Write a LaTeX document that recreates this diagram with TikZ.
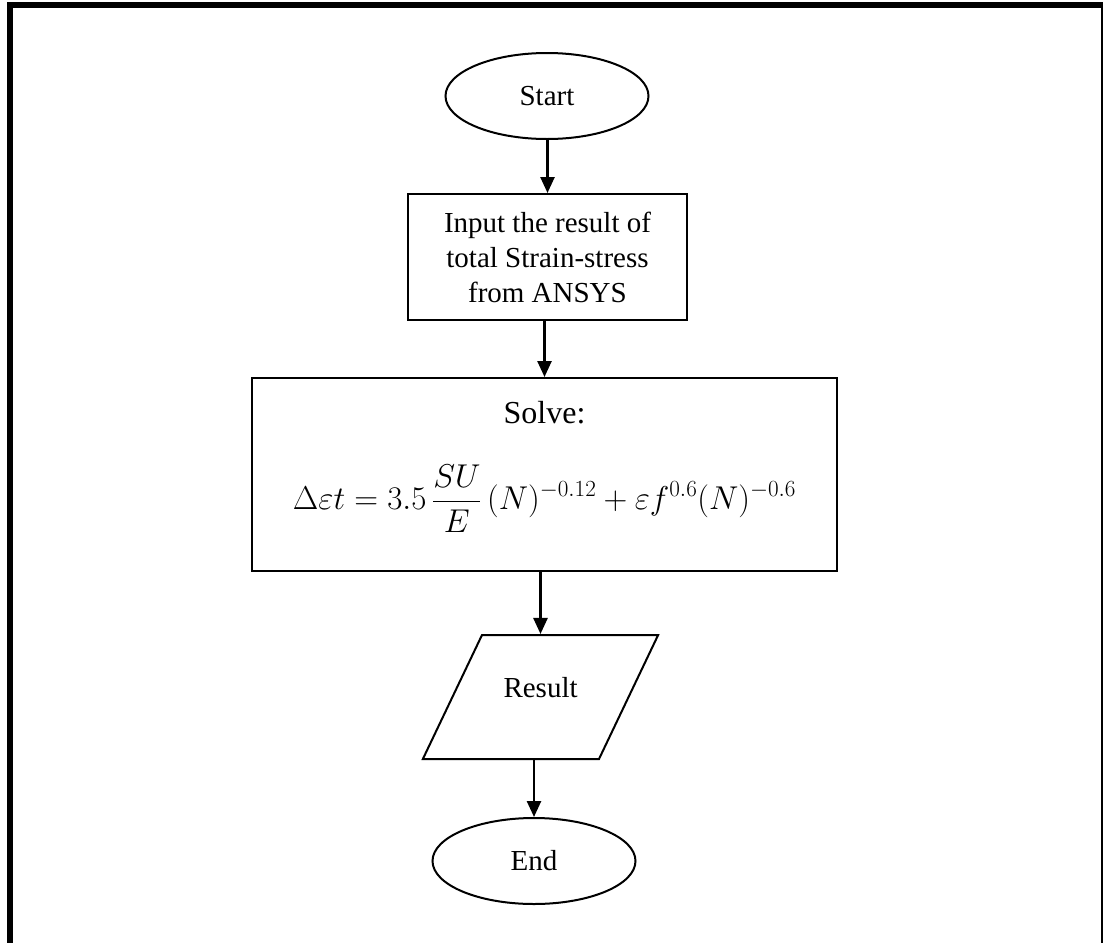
\RequirePackage{fix-cm}
\documentclass[tikz,border=0pt]{standalone}
\usepackage{amsmath}
\usepackage{fontspec}
\setmainfont{Liberation Serif}
\usetikzlibrary{arrows.meta,shapes.geometric}

\begin{document}
\begin{tikzpicture}[->,>={Triangle[length=16pt,width=14pt]}, x=1pt, y=-1pt, line width=2pt,
  term node/.style={ellipse,draw,minimum width=203pt,minimum height=86pt,inner sep=0pt,font=\fontsize{29}{35}\selectfont},
  box node/.style={rectangle,draw,align=center,inner sep=0pt,font=\fontsize{29}{35}\selectfont},
  data node/.style={trapezium,trapezium left angle=64.5,trapezium right angle=115.5,draw,inner xsep=21.5pt,inner ysep=42pt,text height=20pt,text depth=20pt,text width=74pt,align=center,font=\fontsize{29}{35}\selectfont}]

  \useasboundingbox (0,0) rectangle (1103,943);
  % page frame
  \draw[-,line width=6pt] (7,5) -- (1103,5);
  \draw[-,line width=6pt] (10,2) -- (10,943);
  \draw[-,line width=2pt] (1102,2) -- (1102,943);

  \node[term node] (start) at (547,96) {Start};
  \node[box node,minimum width=279pt,minimum height=126pt] (input) at (547.5,257) {Input the result of\\total Strain-stress\\from ANSYS};
  \node[box node,minimum width=585pt,minimum height=193pt,font=\fontsize{32}{38}\selectfont] (solve) at (544.5,474.5) {Solve:\\[40pt]{\fontsize{33}{40}\selectfont$\displaystyle \Delta\varepsilon t = 3.5\,\frac{SU}{E}\,(N)^{-0.12}+\varepsilon f^{0.6}(N)^{-0.6}\rule[-38pt]{0pt}{0pt}$}};
  \node[data node] (result) at (540.5,697) {Result};
  \node[term node] (stop) at (534,861) {End};

  \foreach \source/\dest in {start/input, input/solve, solve/result, result/stop}
    \path[line width=2.5pt] (\dest.north |- \source.south) edge (\dest.north);
\end{tikzpicture}
\end{document}
